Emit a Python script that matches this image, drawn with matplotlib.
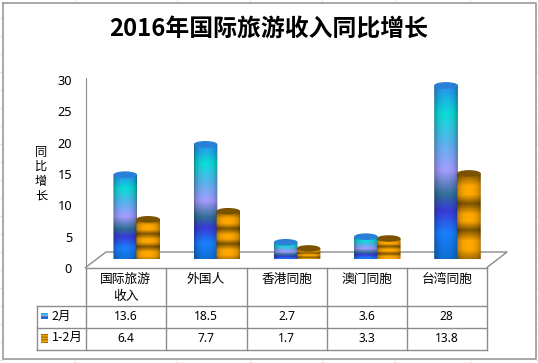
import numpy as np
import matplotlib
matplotlib.use('Agg')
import matplotlib.pyplot as plt
from matplotlib.colors import LinearSegmentedColormap
from matplotlib.path import Path
from matplotlib.patches import PathPatch, Ellipse

plt.rcParams['font.family'] = ['Noto Sans CJK SC', 'DejaVu Sans']

title = '2016年国际旅游收入同比增长'
categories = ['国际旅游\n收入', '外国人', '香港同胞', '澳门同胞', '台湾同胞']
series_names = ['2月', '1-2月']
feb = [13.6, 18.5, 2.7, 3.6, 28]
jan_feb = [6.4, 7.7, 1.7, 3.3, 13.8]
feb_labels = ['13.6', '18.5', '2.7', '3.6', '28']
jan_feb_labels = ['6.4', '7.7', '1.7', '3.3', '13.8']
y_ticks = [0, 5, 10, 15, 20, 25, 30]

W, H = 538, 363
LINE = '#8c8c8c'

# texture colours, bottom to top of the bar
blue_cmap = LinearSegmentedColormap.from_list('blue', [
    (0.0, '#0d6ccc'), (0.16, '#1a80ff'), (0.29, '#3a3ad8'), (0.38, '#2f7098'),
    (0.52, '#a49cff'), (0.68, '#58b4ee'), (0.84, '#0cdcd8'), (1.0, '#2a90f0')])
gold_cmap = LinearSegmentedColormap.from_list('gold', [
    (0.0, '#8a5c00'), (0.14, '#ffa800'), (0.24, '#ffa800'), (0.36, '#7e5400'),
    (0.46, '#ffa800'), (0.54, '#ffa800'), (0.66, '#7e5400'), (0.76, '#ffa800'),
    (0.86, '#ffa800'), (1.0, '#7e5400')])


def axes_px(fig, left, top, right, bottom):
    return fig.add_axes([left / W, 1 - bottom / H, (right - left) / W, (bottom - top) / H])


def texture(cmap):
    # vertical colour band with darker edges for the round look
    v = cmap(np.linspace(0, 1, 160))[:, :3]
    u = np.linspace(-1, 1, 48)
    shade = 0.5 + 0.5 * np.sqrt(1 - (u * 0.98) ** 2) ** 0.8
    return (v[:, None, :] * shade[None, :, None]).clip(0, 1)


def cylinder(ax, x, width, value, cmap, top_color, ry):
    x0, x1 = x - width / 2, x + width / 2
    k = 0.5523
    dx = width / 2
    verts = [(x0, value), (x0, 0), (x0, -k * ry), (x - k * dx, -ry), (x, -ry),
             (x + k * dx, -ry), (x1, -k * ry), (x1, 0), (x1, value), (x0, value)]
    codes = [Path.MOVETO, Path.LINETO, Path.CURVE4, Path.CURVE4, Path.CURVE4,
             Path.CURVE4, Path.CURVE4, Path.CURVE4, Path.LINETO, Path.CLOSEPOLY]
    clip = PathPatch(Path(verts, codes), transform=ax.transData, fc='none', ec='none')
    ax.add_patch(clip)
    im = ax.imshow(texture(cmap), extent=(x0, x1, -ry, value), origin='lower',
                   aspect='auto', interpolation='bilinear', zorder=3)
    im.set_clip_path(clip)
    ax.add_patch(Ellipse((x, value), width, 2 * ry, fc=top_color, ec='none', zorder=4))


fig = plt.figure(figsize=(W / 100, H / 100), dpi=100, facecolor='white')

# overlay in pixel coordinates: frame, floor and table
bg = fig.add_axes([0, 0, 1, 1], zorder=0)
bg.set_xlim(0, W)
bg.set_ylim(H, 0)
bg.axis('off')
for y in np.arange(18, H, 18):
    bg.plot([0, 2], [y, y], color='#e4e4e4', lw=0.8)
    bg.plot([536, W], [y, y], color='#e4e4e4', lw=0.8)
for x in [75, 177, 250, 322, 395, 470]:
    bg.plot([x, x], [0, 2], color='#e4e4e4', lw=0.8)
    bg.plot([x, x], [360, H], color='#e4e4e4', lw=0.8)
bg.plot([2.5, 535.5, 535.5, 2.5, 2.5], [2.5, 2.5, 359, 359, 2.5], color='#9a9a9a', lw=1.2)

# floor
bg.plot([85.5, 106, 507, 487], [267.5, 252, 252, 267.5], color=LINE, lw=1)

col_x = [85.5, 165.5, 246.5, 326.5, 406.5, 487]
row_y = [267.5, 306, 328, 350]
for x in col_x:
    bg.plot([x, x], [267.5, 350], color=LINE, lw=1)
for y in row_y:
    bg.plot([85.5 if y == 267.5 else 36.5, 487], [y, y], color=LINE, lw=1)
bg.plot([36.5, 36.5], [306, 350], color=LINE, lw=1)

for i, name in enumerate(categories):
    cx = (col_x[i] + col_x[i + 1]) / 2
    bg.text(cx, 273, name, ha='center', va='top', fontsize=9.2, linespacing=1.42, color='black')
    bg.text(cx, 317, feb_labels[i], ha='center', va='center', fontsize=8.6,
            family=['Noto Sans', 'DejaVu Sans'], color='black')
    bg.text(cx, 339, jan_feb_labels[i], ha='center', va='center', fontsize=8.6,
            family=['Noto Sans', 'DejaVu Sans'], color='black')

bg.imshow(blue_cmap(np.linspace(0, 1, 16))[:, None, :3], extent=(41, 48, 319, 313),
          origin='lower', aspect='auto', zorder=3)
bg.imshow(gold_cmap(np.linspace(0, 1, 24))[:, None, :3], extent=(41, 48, 343, 334),
          origin='lower', aspect='auto', zorder=3)
bg.set_xlim(0, W)
bg.set_ylim(H, 0)
bg.text(51.5, 316, series_names[0], ha='left', va='center', fontsize=9, color='black')
bg.text(52, 337.5, series_names[1], ha='left', va='center', fontsize=9, color='black')

bg.text(268.5, 29, title, ha='center', va='center', fontsize=17.2, fontweight='bold', color='black')
bg.text(41, 174, '同\n比\n增\n长', ha='center', va='center', fontsize=8.8, linespacing=1.15, color='black')

# value axis
ax = axes_px(fig, 86, 80, 487, 268)
ax.set_zorder(1)
ax.patch.set_visible(False)
ax.set_ylim(0, 30)
ax.set_yticks(y_ticks)
ax.set_xticks([])
ax.tick_params(axis='y', length=0, pad=10, labelsize=9.2)
for lbl in ax.get_yticklabels():
    lbl.set_family(['Noto Sans', 'DejaVu Sans'])
for s in ['top', 'right', 'bottom']:
    ax.spines[s].set_visible(False)
ax.spines['left'].set_color(LINE)
ax.spines['left'].set_bounds(0, 30.3)

# cylinders, shifted right and up for the depth of the floor
bars = axes_px(fig, 97, 73, 498, 259)
bars.set_zorder(2)
bars.patch.set_visible(False)
bars.axis('off')
width = 0.295
ry = 3.3 / 6.2
for i in range(len(categories)):
    cylinder(bars, i - width / 2, width, feb[i], blue_cmap, '#2a7fd6', ry)
    cylinder(bars, i + width / 2 - 0.01, width, jan_feb[i], gold_cmap, '#7a5200', ry)
bars.set_xlim(-0.5, 4.5)
bars.set_ylim(0, 30)

fig.savefig('out.png', dpi=100)
